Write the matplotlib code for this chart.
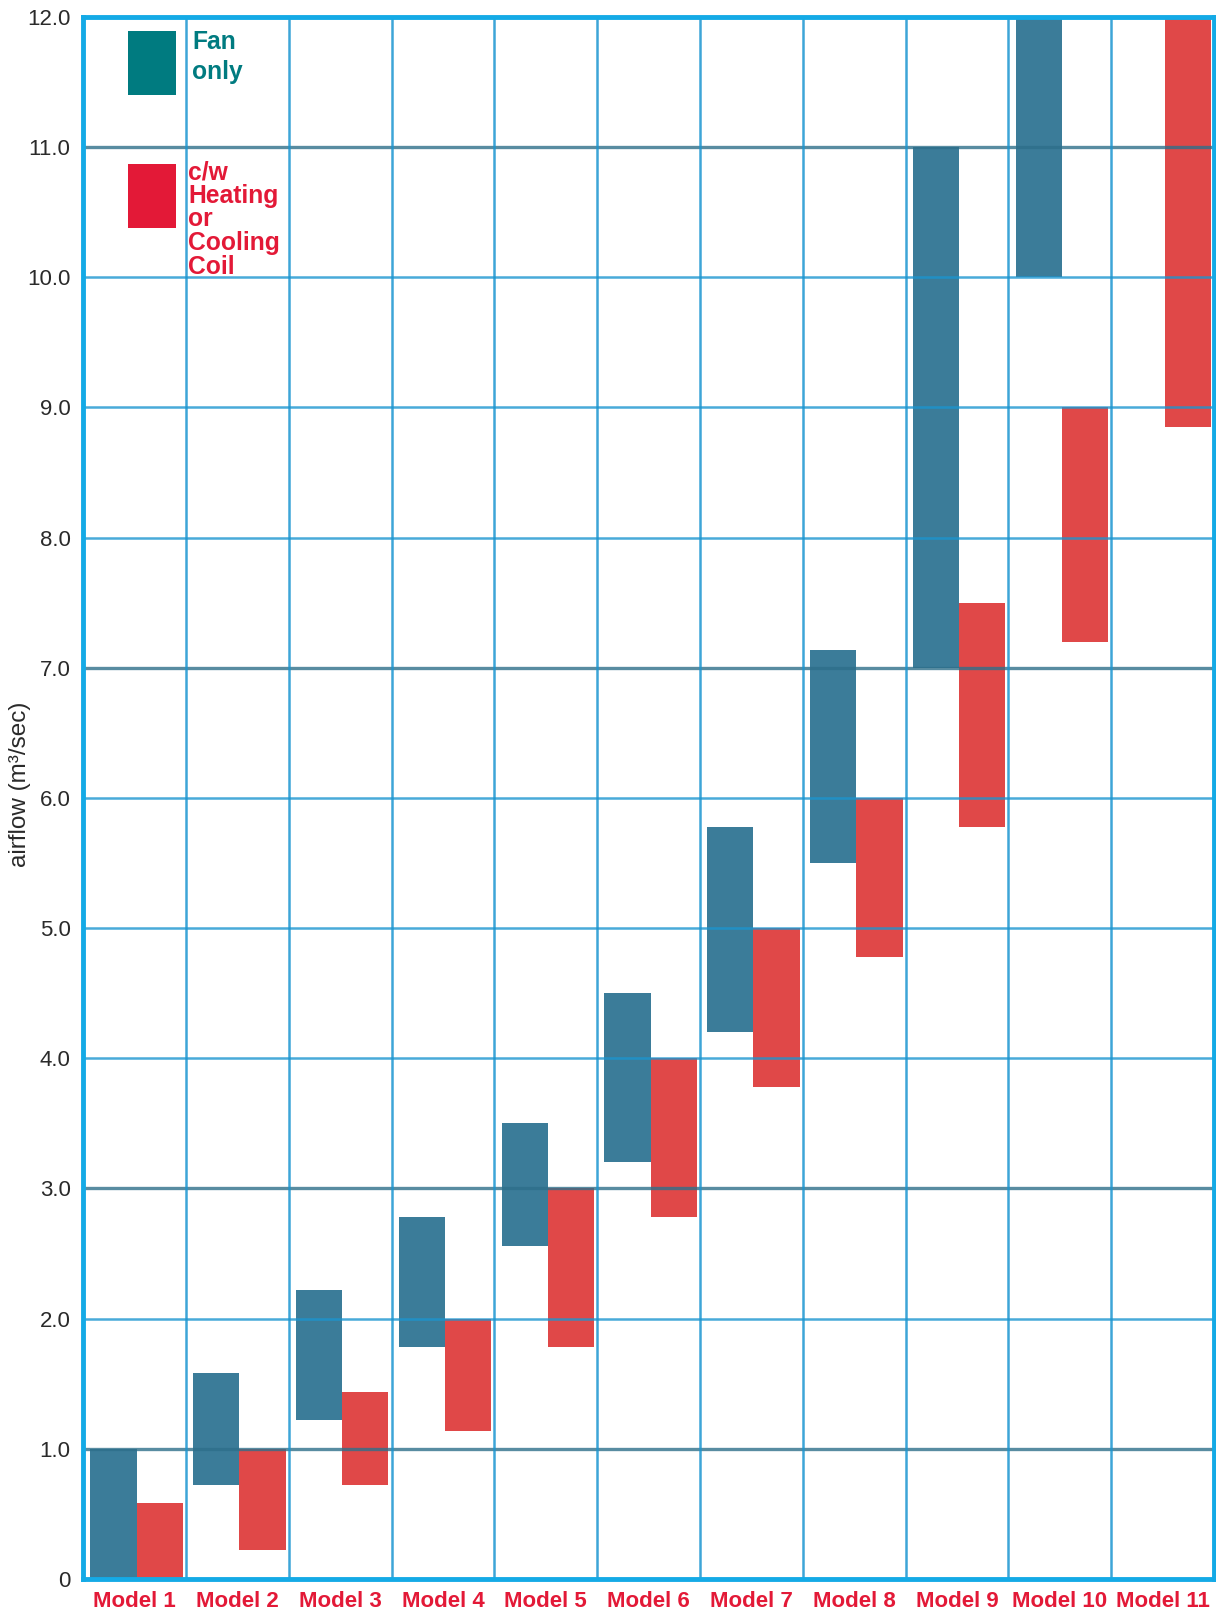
import numpy as np
import matplotlib
matplotlib.use("Agg")
import matplotlib.pyplot as plt
from matplotlib.patches import Rectangle

plt.rcParams['font.family'] = ['Liberation Sans', 'DejaVu Sans']

# Airflow ranges (m³/sec) per model
models = ["Model 1", "Model 2", "Model 3", "Model 4", "Model 5", "Model 6",
          "Model 7", "Model 8", "Model 9", "Model 10", "Model 11"]
fan_low = [0.0, 0.72, 1.22, 1.78, 2.56, 3.20, 4.20, 5.50, 7.00, 10.00, np.nan]
fan_high = [1.0, 1.58, 2.22, 2.78, 3.50, 4.50, 5.78, 7.14, 11.00, 12.00, np.nan]
coil_low = [0.0, 0.22, 0.72, 1.14, 1.78, 2.78, 3.78, 4.78, 5.78, 7.20, 8.85]
coil_high = [0.58, 1.0, 1.44, 2.0, 3.0, 4.0, 5.0, 6.0, 7.50, 9.00, 12.00]
y_ticks = [0, 1, 2, 3, 4, 5, 6, 7, 8, 9, 10, 11, 12]
y_tick_labels = ["0", "1.0", "2.0", "3.0", "4.0", "5.0", "6.0", "7.0",
                 "8.0", "9.0", "10.0", "11.0", "12.0"]

FAN_BAR = "#3b7c99"
COIL_BAR = "#e04848"
FAN_KEY = "#007b80"
COIL_KEY = "#e31937"
GRID_LIGHT = "#1b95d0"
GRID_DARK = "#2e6f8a"
FRAME = "#14aae6"

fig = plt.figure(figsize=(12.16, 16.12), dpi=100)
ax = fig.add_axes([0.0683, 0.0205, 0.9301, 0.969])

n = len(models)
x = np.arange(n)
fan_low_a = np.array(fan_low)
fan_high_a = np.array(fan_high)
coil_low_a = np.array(coil_low)
coil_high_a = np.array(coil_high)

ax.bar(x + 0.07, fan_high_a - fan_low_a, bottom=fan_low_a, width=0.45,
       align='edge', color=FAN_BAR, zorder=2, linewidth=0)
ax.bar(x + 0.52, coil_high_a - coil_low_a, bottom=coil_low_a, width=0.45,
       align='edge', color=COIL_BAR, zorder=2, linewidth=0)

# Grid
dark_rows = {1, 3, 7, 11}
for yv in range(1, 12):
    dark = yv in dark_rows
    ax.axhline(yv, color=GRID_DARK if dark else GRID_LIGHT,
               lw=2.4 if dark else 1.8, alpha=0.8, zorder=3)
for xv in range(1, n):
    ax.axvline(xv, color=GRID_LIGHT, lw=1.8, alpha=0.85, zorder=3)

ax.set_xlim(0, n)
ax.set_ylim(0, 12)

for sp in ax.spines.values():
    sp.set_color(FRAME)
    sp.set_linewidth(3.5)
    sp.set_zorder(5)

ax.set_yticks(y_ticks)
ax.set_yticklabels(y_tick_labels, fontsize=16, color="#2a2a2a")
ax.set_xticks(x + 0.5)
ax.set_xticklabels(models, fontsize=16, color=COIL_KEY, fontweight='bold')
ax.tick_params(axis='both', length=0)
ax.tick_params(axis='y', pad=9)
ax.tick_params(axis='x', pad=9)

ax.set_ylabel("airflow (m³/sec)", fontsize=17.5, color="#2a2a2a")
ax.yaxis.set_label_coords(-0.046, 0.509)

# Key
ax.add_patch(Rectangle((0.44, 11.40), 0.46, 0.49, color=FAN_KEY, lw=0, zorder=4))
ax.add_patch(Rectangle((0.44, 10.38), 0.46, 0.49, color=COIL_KEY, lw=0, zorder=4))
ax.text(1.06, 11.90, "Fan\nonly", color=FAN_KEY, fontsize=17.7,
        fontweight='bold', va='top', ha='left', linespacing=1.3, zorder=6)
ax.text(1.02, 10.90, "c/w\nHeating\nor\nCooling\nCoil", color=COIL_KEY,
        fontsize=17.7, fontweight='bold', va='top', ha='left',
        linespacing=0.98, zorder=6)

fig.savefig("out.png", dpi=100, facecolor="white")
